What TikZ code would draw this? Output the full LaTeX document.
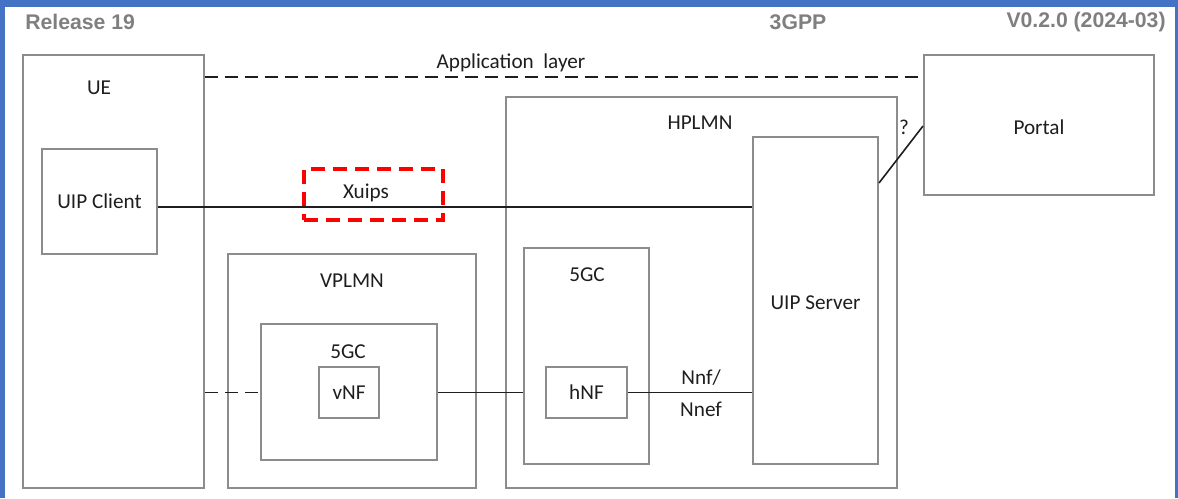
\documentclass[tikz,border=0pt]{standalone}
\usepackage{fontspec}
\setmainfont{Carlito}
\newfontfamily\hdrfont{Liberation Sans}
\usetikzlibrary{fit, positioning}
\definecolor{frameblue}{HTML}{4472C4}
\definecolor{boxgray}{HTML}{8C8C8C}
\definecolor{hdrgray}{HTML}{7F7F7F}
\definecolor{txtdark}{HTML}{1E1E1E}
\definecolor{markred}{HTML}{FF0000}

\begin{document}
\begin{tikzpicture}[
    x=0.5pt, y=-0.5pt,
    every node/.style={align=center, text=txtdark, font=\fontsize{10.6}{12}\selectfont},
    sp-box/.style={draw=boxgray, line width=1pt, inner sep=0pt},
    sp-label/.style={inner sep=1pt},
    sp-hdr/.style={text=hdrgray, font=\hdrfont\bfseries\fontsize{10.6}{12}\selectfont, inner sep=0pt},
    sp-link/.style={draw=txtdark, line width=0.8pt},
    sp-dash/.style={sp-link, dash pattern=on 6.5pt off 3.5pt},
    sp-mark/.style={draw=markred, line width=2pt, dash pattern=on 7pt off 4pt, inner sep=0pt},
]
    \useasboundingbox (0,0) rectangle (1178,498);

    % ---- FRAME + HEADER ----
    \fill[frameblue] (0,0) rectangle (5,498);
    \fill[frameblue] (0,0) rectangle (1178,7);
    \fill[frameblue] (1175,0) rectangle (1178,498);
    \node[sp-hdr, anchor=west] (hdr-rel) at (25,22) {Release 19};
    \node[sp-hdr] (hdr-org) at (798,22) {3GPP};
    \node[sp-hdr, anchor=east] (hdr-ver) at (1166,22) {V0.2.0 (2024-03)};

    % ---- NODES: UE side ----
    \node[sp-box, fit={(23,55)(204,488)}] (ue) {};
    \node[sp-label] (ue-lbl) at (99,88) {UE};
    \node[sp-box, fit={(42,149)(157,254)}] (client) {};
    \node[sp-label] (client-lbl) at (client.center) {UIP Client};

    % ---- NODES: visited network ----
    \node[sp-box, fit={(228,254)(476,488)}] (vplmn) {};
    \node[sp-label] (vplmn-lbl) at (352,281) {VPLMN};
    \node[sp-box, fit={(261,324)(437,460)}] (vcore) {};
    \node[sp-label] (vcore-lbl) at (348,352) {5GC};
    \node[sp-box, fit={(319,367)(379,418)}] (vnf) {};
    \node[sp-label] (vnf-lbl) at (vnf.center) {vNF};

    % ---- NODES: home network ----
    \node[sp-box, fit={(506,97)(897,488)}] (hplmn) {};
    \node[sp-label] (hplmn-lbl) at (700,123) {HPLMN};
    \node[sp-box, fit={(524,248)(649,464)}] (hcore) {};
    \node[sp-label] (hcore-lbl) at (587,275) {5GC};
    \node[sp-box, fit={(546,367)(627,418)}] (hnf) {};
    \node[sp-label] (hnf-lbl) at (hnf.center) {hNF};
    \node[sp-box, fit={(753,137)(878,464)}] (server) {};
    \node[sp-label] (server-lbl) at ([yshift=-1pt]server.center) {UIP Server};

    % ---- NODES: portal ----
    \node[sp-box, fit={(924,55)(1154,195)}] (portal) {};
    \node[sp-label] (portal-lbl) at ([yshift=-1pt]portal.center) {Portal};

    % ---- CONNECTORS ----
    \coordinate (app-y) at (0,77);
    \coordinate (xuips-y) at (0,207);
    \coordinate (q-lo) at (0,183);
    \coordinate (q-hi) at (0,126);

    \draw[sp-dash] (ue.east |- app-y) -- (portal.west |- app-y);
    \node[sp-label] (app-lbl) at (511,63) {Application\ \ layer};

    \draw[sp-link] (client.east |- xuips-y) -- (server.west |- xuips-y);
    \node[sp-mark, fit={(304,169)(443,220)}] (xuips-mark) {};
    \node[sp-label] (xuips-lbl) at (366,193) {Xuips};

    \draw[sp-dash] (ue.east |- vnf.center) -- (vcore.west |- vnf.center);
    \draw[sp-link] (vcore.east |- vnf.center) -- (hcore.west |- vnf.center);

    \draw[sp-link] (hnf.east) -- (server.west |- hnf.east);
    \node[sp-label] (nnf-lbl) at (701,378) {Nnf/};
    \node[sp-label] (nnef-lbl) at (701,409) {Nnef};

    \draw[sp-link] (server.east |- q-lo) -- (portal.west |- q-hi);
    \node[sp-label] (q-lbl) at (904,127) {?};

\end{tikzpicture}
\end{document}
